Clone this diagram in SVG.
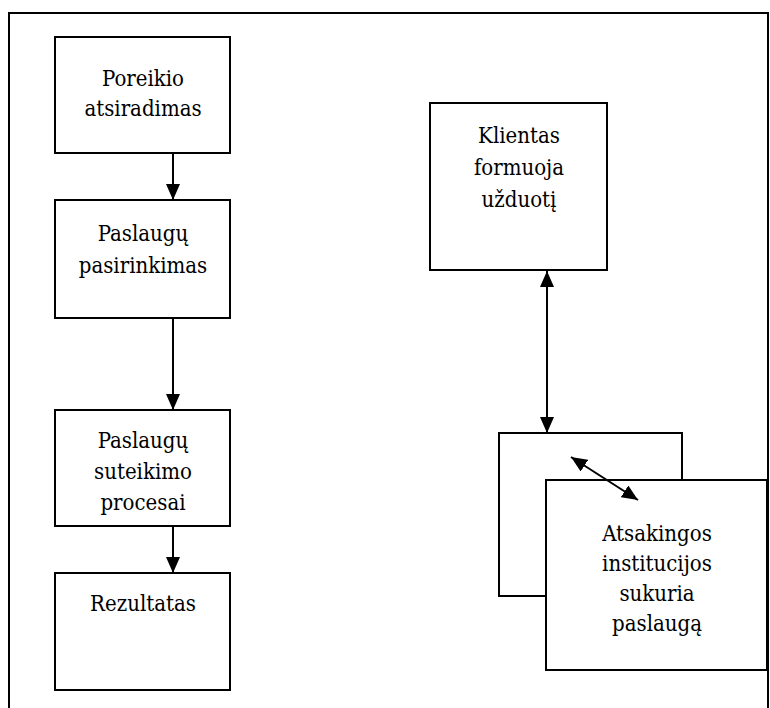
<svg xmlns="http://www.w3.org/2000/svg" width="770" height="708" viewBox="0 0 770 708">
<style>
.box{fill:#fff;stroke:#000;stroke-width:2}
.t{font-family:'DejaVu Serif Condensed','DejaVu Serif',serif;font-stretch:condensed;font-size:22px;fill:#000;text-anchor:middle}
.c{stroke:#000;stroke-width:2;fill:none}
</style>
<defs>
<marker id="a" viewBox="0 0 16 14" refX="16" refY="7" markerWidth="16" markerHeight="14" markerUnits="userSpaceOnUse" orient="auto-start-reverse">
<path d="M0,0 L16,7 L0,14 z" fill="#000"/>
</marker>
</defs>
<rect x="0" y="0" width="770" height="708" fill="#fff"/>
<g id="frame"><path d="M9,720 L9,13 L768,13 L768,720" class="c"/></g>
<g id="n1"><rect class="box" x="55" y="37" width="175" height="116"/><text class="t" x="143" y="86">Poreikio</text><text class="t" x="143" y="116">atsiradimas</text></g>
<g id="n2"><rect class="box" x="55" y="200" width="175" height="118"/><text class="t" x="143" y="241">Paslaugų</text><text class="t" x="143" y="273">pasirinkimas</text></g>
<g id="n3"><rect class="box" x="55" y="410" width="175" height="116"/><text class="t" x="143" y="448">Paslaugų</text><text class="t" x="143" y="479">suteikimo</text><text class="t" x="143" y="510">procesai</text></g>
<g id="n4"><rect class="box" x="55" y="573" width="175" height="117"/><text class="t" x="143" y="611">Rezultatas</text></g>
<g id="n5"><rect class="box" x="430" y="103" width="177" height="167"/><text class="t" x="519" y="143">Klientas</text><text class="t" x="519" y="175">formuoja</text><text class="t" x="519" y="207">užduotį</text></g>
<g id="n6"><rect class="box" x="499" y="433" width="183" height="163"/></g>
<g id="n7"><rect class="box" x="546" y="480" width="221" height="190"/><text class="t" x="657" y="541">Atsakingos</text><text class="t" x="657" y="571">institucijos</text><text class="t" x="657" y="601">sukuria</text><text class="t" x="657" y="631">paslaugą</text></g>
<g id="connectors">
<line class="c" x1="173" y1="153" x2="173" y2="200" marker-end="url(#a)"/>
<line class="c" x1="173" y1="318" x2="173" y2="410" marker-end="url(#a)"/>
<line class="c" x1="173" y1="526" x2="173" y2="573" marker-end="url(#a)"/>
<line class="c" x1="547" y1="271" x2="547" y2="433" marker-start="url(#a)" marker-end="url(#a)"/>
<line class="c" x1="571" y1="457" x2="638" y2="500" marker-start="url(#a)" marker-end="url(#a)"/>
</g>
</svg>
